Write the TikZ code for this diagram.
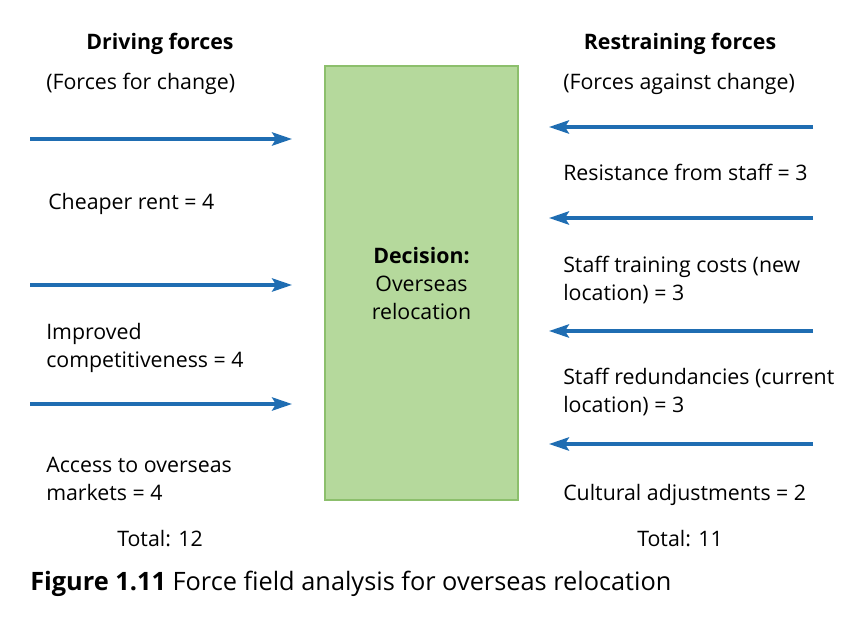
\documentclass[tikz,border=0pt]{standalone}
\usepackage{fontspec}
\setmainfont{Open Sans}
\usepackage{xcolor}
\usepackage{tikz}
\usetikzlibrary{arrows.meta}

\definecolor{forceblue}{HTML}{1F6DB2}
\definecolor{boxgreen}{HTML}{B5D99C}
\definecolor{boxedge}{HTML}{8CBF6C}

\begin{document}
\begin{tikzpicture}[x=0.75pt,y=-0.75pt,
  force/.style={line width=2.5pt,color=forceblue,-{Stealth[length=15pt,width=10pt,inset=3pt]}},
  txt/.style={anchor=base west,inner sep=0pt,align=left,font=\fontsize{16}{21}\selectfont},
  head/.style={anchor=base,inner sep=0pt,font=\fontsize{16}{21}\selectfont\bfseries},
  total/.style={anchor=base,inner sep=0pt,font=\fontsize{16}{21}\selectfont},
  decisionbox/.style={draw=boxedge,fill=boxgreen,line width=0.8pt,minimum width=144.75pt,
    minimum height=325.5pt,align=center,font=\fontsize{16}{21}\selectfont}]
  \useasboundingbox (0,0) rectangle (842,621);

  % Decision box
  \node[decisionbox] (decision) at (421.5,283) {\textbf{Decision:}\\Overseas\\relocation};

  % Driving forces (two-line texts sit on their last baseline)
  \node[head] (drivehead) at (160,49) {Driving forces};
  \node[txt] (drivesub) at (46,89) {(Forces for change)};
  \node[txt] (rent) at (48,209) {Cheaper rent = 4};
  \node[txt] (compet) at (46,367) {Improved\\competitiveness = 4};
  \node[txt] (markets) at (46,500) {Access to overseas\\markets = 4};
  \node[total] (drivetotal) at (160,546) {Total: 12};

  \coordinate (drive1a) at (30,139);  \coordinate (drive1b) at (292,139);
  \coordinate (drive2a) at (30,285);  \coordinate (drive2b) at (292,285);
  \coordinate (drive3a) at (30,404);  \coordinate (drive3b) at (292,404);
  \draw[force] (drive1a) -- (drive1b);
  \draw[force] (drive2a) -- (drive2b);
  \draw[force] (drive3a) -- (drive3b);

  % Restraining forces
  \node[head] (resthead) at (680,49) {Restraining forces};
  \node[txt] (restsub) at (563,89) {(Forces against change)};
  \node[txt] (resist) at (563,180) {Resistance from staff = 3};
  \node[txt] (training) at (563,300) {Staff training costs (new\\location) = 3};
  \node[txt] (redund) at (563,412) {Staff redundancies (current\\location) = 3};
  \node[txt] (culture) at (563,500) {Cultural adjustments = 2};
  \node[total] (resttotal) at (680,546) {Total: 11};

  \coordinate (rest1a) at (813,127);  \coordinate (rest1b) at (549,127);
  \coordinate (rest2a) at (813,218);  \coordinate (rest2b) at (549,218);
  \coordinate (rest3a) at (813,331);  \coordinate (rest3b) at (549,331);
  \coordinate (rest4a) at (813,444);  \coordinate (rest4b) at (549,444);
  \draw[force] (rest1a) -- (rest1b);
  \draw[force] (rest2a) -- (rest2b);
  \draw[force] (rest3a) -- (rest3b);
  \draw[force] (rest4a) -- (rest4b);

  % Caption
  \node[anchor=base west,inner sep=0pt,font=\fontsize{19}{23}\selectfont] (caption) at (30,590)
    {\textbf{Figure 1.11} Force field analysis for overseas relocation};
\end{tikzpicture}
\end{document}
